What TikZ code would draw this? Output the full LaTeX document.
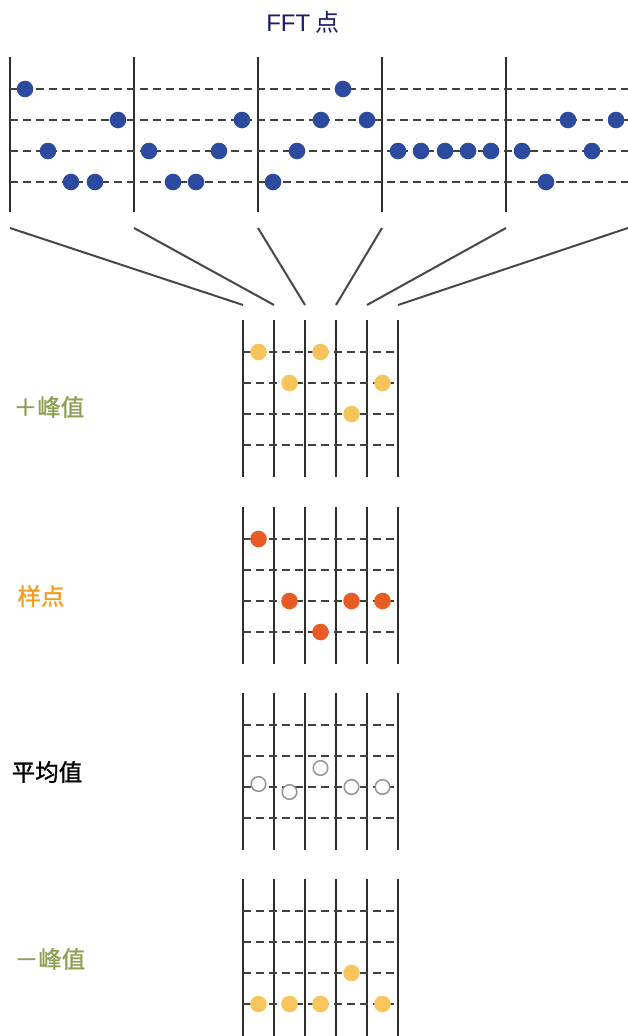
\documentclass[tikz,border=0pt]{standalone}
\usepackage{fontspec}
\setmainfont{Noto Sans CJK SC}[AutoFakeBold=1.2]
\newfontfamily\arialf{Liberation Sans}
\definecolor{fftblue}{RGB}{44,74,158}
\definecolor{peakyel}{RGB}{248,196,92}
\definecolor{samporg}{RGB}{232,92,36}
\definecolor{olivelab}{RGB}{143,160,85}
\definecolor{orglab}{RGB}{244,158,32}
\definecolor{navy}{RGB}{28,26,110}
\newcommand\fretgrid[1]{%
  \foreach \i in {0,...,5}
    \draw[vline] ({243+31*\i},{#1-32}) -- ({243+31*\i},{#1+125});
  \foreach \k in {0,...,3}
    \draw[hline] (243,{#1+31*\k}) -- (398,{#1+31*\k});
}
\begin{document}
\begin{tikzpicture}[x=1pt,y=-1pt,
  vline/.style={draw=black!82, line width=2.5pt},
  hline/.style={draw=black!75, line width=2.5pt, dash pattern=on 8pt off 5pt},
  fan/.style={draw=black!72, line width=2pt},
  lab/.style={font=\fontsize{23.5}{28}\selectfont\bfseries, inner sep=0pt},
  fftdot/.style={fill=fftblue},
  peakdot/.style={fill=peakyel},
  sampdot/.style={fill=samporg},
  avgdot/.style={draw=black!42, fill=white, line width=1.5pt}
]
\useasboundingbox (0,0) rectangle (628,1036);
\fill[white] (0,0) rectangle (628,1036);

% title
\node[inner sep=0pt, text=navy, font=\fontsize{24}{28}\selectfont] (title) at (303,22) {{\arialf FFT} 点};

% top FFT grid
\foreach \i in {0,...,4}
  \draw[vline] ({10+124*\i},57) -- ({10+124*\i},212);
\foreach \y in {89,120,151,182}
  \draw[hline] (10,\y) -- (628,\y);
\foreach \x/\y in {25/89, 343/89,
  118/120, 242/120, 321/120, 367/120, 568/120, 616/120,
  48/151, 149/151, 219/151, 297/151, 398/151, 421/151, 445/151, 468/151, 491/151, 522/151, 592/151,
  71/182, 95/182, 173/182, 196/182, 273/182, 546/182}
  \fill[fftdot] (\x,\y) circle (8.3);

% fan
\foreach \n/\xa/\xb in {1/10/243, 2/134/274, 3/258/305, 4/382/336, 5/506/367, 6/628/398}{
  \coordinate (fa\n) at (\xa,228);
  \coordinate (fb\n) at (\xb,305);
  \draw[fan] (fa\n) -- (fb\n);
}

% grid 1: + peak
\fretgrid{352}
\foreach \x/\y in {258.5/352, 320.5/352, 289.5/383, 382.5/383, 351.5/414}
  \fill[peakdot] (\x,\y) circle (8.3);
\node[lab, text=olivelab] (pluspeak) at (49,407) {＋峰值};

% grid 2: samples
\fretgrid{539}
\foreach \x/\y in {258.5/539, 289.5/601, 351.5/601, 382.5/601, 320.5/632}
  \fill[sampdot] (\x,\y) circle (8.3);
\node[lab, text=orglab] (samp) at (41,596) {样点};

% grid 3: average
\fretgrid{725}
\foreach \x/\y in {258.5/784, 289.5/792, 320.5/768, 351.5/787, 382.5/787}
  \draw[avgdot] (\x,\y) circle (7.3);
\node[lab, text=black] (avg) at (47,772) {平均值};

% grid 4: - peak
\fretgrid{911}
\foreach \x/\y in {351.5/973, 258.5/1004, 289.5/1004, 320.5/1004, 382.5/1004}
  \fill[peakdot] (\x,\y) circle (8.3);
\node[lab, text=olivelab] (minuspeak) at (50,959) {－峰值};
\end{tikzpicture}
\end{document}
